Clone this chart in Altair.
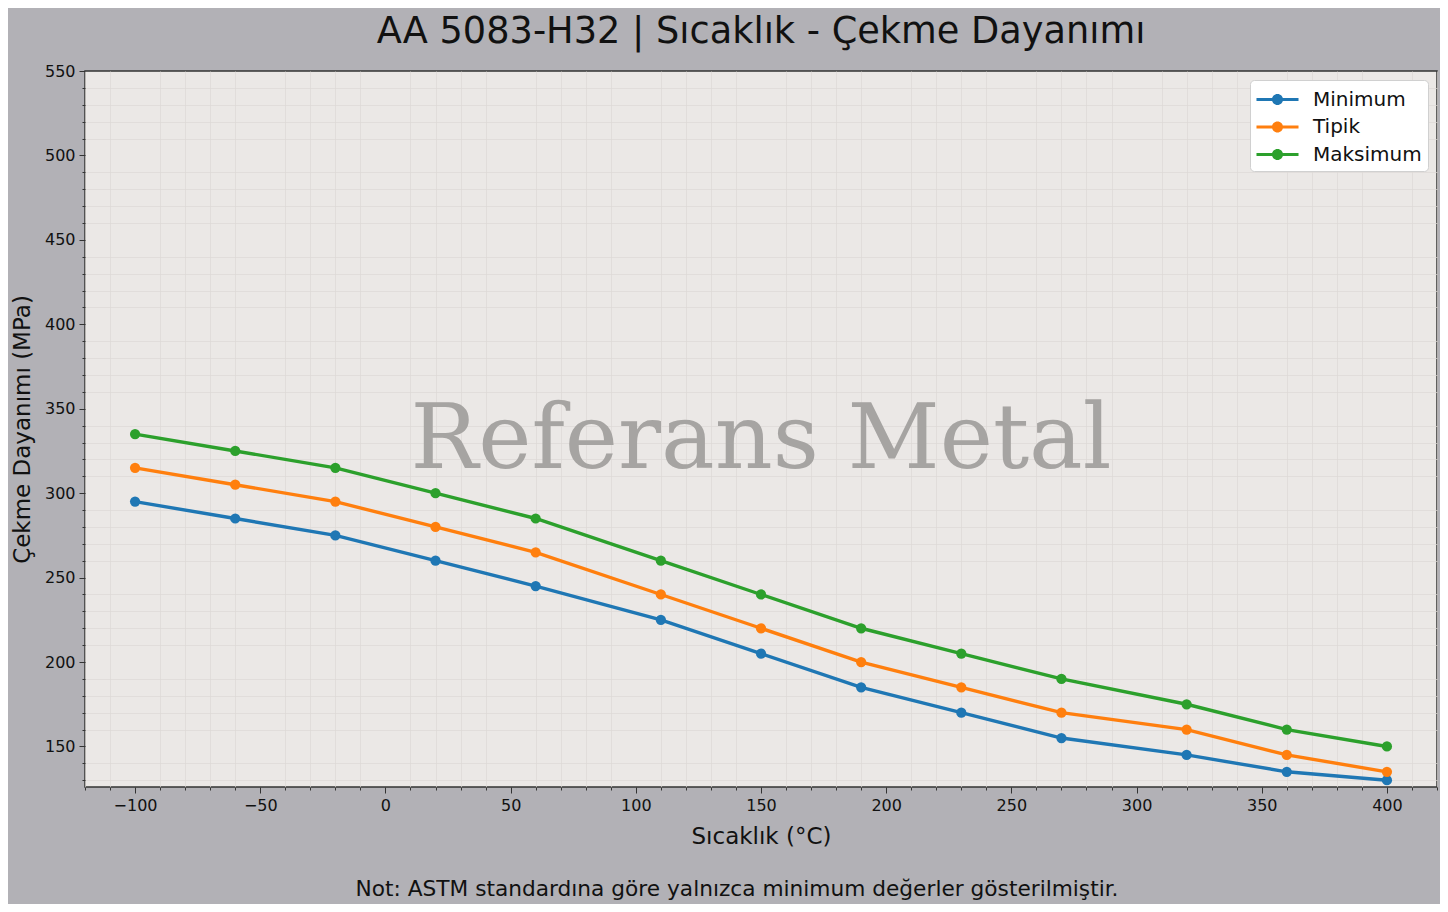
import altair as alt
import pandas as pd

temps = [-100, -60, -20, 20, 60, 110, 150, 190, 230, 270, 320, 360, 400]
minimum = [295, 285, 275, 260, 245, 225, 205, 185, 170, 155, 145, 135, 130]
tipik = [315, 305, 295, 280, 265, 240, 220, 200, 185, 170, 160, 145, 135]
maksimum = [335, 325, 315, 300, 285, 260, 240, 220, 205, 190, 175, 160, 150]
series = ["Minimum", "Tipik", "Maksimum"]
colors = ["#1f77b4", "#ff7f0e", "#2ca02c"]

x_major = list(range(-100, 401, 50))
x_minor = [v for v in range(-120, 421, 10) if v not in x_major]
y_major = list(range(150, 551, 50))
y_minor = [v for v in range(130, 551, 10) if v not in y_major]

rows = []
for name, vals in zip(series, [minimum, tipik, maksimum]):
    for t, v in zip(temps, vals):
        rows.append({"Sıcaklık": t, "Dayanım": v, "Seri": name})
df = pd.DataFrame(rows)

W, H = 1352, 716
font = "DejaVu Sans"

xs = alt.Scale(domain=[-120, 420], nice=False, zero=False)
ys = alt.Scale(domain=[126, 550], nice=False, zero=False)
color = alt.Color(
    "Seri:N",
    scale=alt.Scale(domain=series, range=colors),
    sort=series,
    legend=alt.Legend(
        title=None, orient="top-right", offset=9,
        fillColor="#ffffff", strokeColor="#d0d0d0", cornerRadius=4,
        padding=6, labelFontSize=20, labelFont=font, labelColor="#111111",
        symbolType="M-1.6,-0.12H1.6V0.12H-1.6Z M0.42,0A0.42,0.42 0 1,1 -0.42,0A0.42,0.42 0 1,1 0.42,0Z",
        symbolSize=690, symbolStrokeWidth=0, symbolOffset=8,
        rowPadding=3.5, labelOffset=22,
    ),
)

minor = alt.Chart(df).mark_point(opacity=0).encode(
    x=alt.X("Sıcaklık:Q", scale=xs, axis=alt.Axis(
        values=x_minor, orient="bottom", labels=False, tickSize=3, domain=False,
        tickColor="#333333", gridColor="#dcd8d6", gridWidth=0.7, title=None)),
    y=alt.Y("Dayanım:Q", scale=ys, axis=alt.Axis(
        values=y_minor, orient="left", labels=False, tickSize=3, domain=False,
        tickColor="#333333", gridColor="#dcd8d6", gridWidth=0.7, title=None)),
)

major = alt.Chart(df).mark_point(opacity=0).encode(
    x=alt.X("Sıcaklık:Q", scale=xs, axis=alt.Axis(
        values=x_major, orient="bottom", tickSize=6, domain=False,
        tickColor="#333333", gridColor="#cfcbc8", gridWidth=1.2,
        labelFont=font, labelFontSize=16, labelColor="#111111", labelPadding=4,
        title="Sıcaklık (°C)", titleFont=font, titleFontSize=23,
        titleFontWeight="normal", titleColor="#111111", titlePadding=12)),
    y=alt.Y("Dayanım:Q", scale=ys, axis=alt.Axis(
        values=y_major, orient="left", tickSize=6, domain=False,
        tickColor="#333333", gridColor="#cfcbc8", gridWidth=1.2,
        labelFont=font, labelFontSize=16, labelColor="#111111", labelPadding=4,
        title="Çekme Dayanımı (MPa)", titleFont=font, titleFontSize=23,
        titleFontWeight="normal", titleColor="#111111", titlePadding=10)),
)

watermark = alt.Chart(pd.DataFrame({"t": ["Referans Metal"]})).mark_text(
    font="DejaVu Serif", fontSize=90,
    color="#a6a4a2", align="center", baseline="middle",
).encode(text="t:N", x=alt.value(W / 2), y=alt.value(370))

note = alt.Chart(pd.DataFrame({"t": [
    "Not: ASTM standardına göre yalnızca minimum değerler gösterilmiştir."
]})).mark_text(
    font=font, fontSize=21.7, color="#111111", align="center",
    baseline="middle", clip=False,
).encode(text="t:N", x=alt.value(W / 2 - 24), y=alt.value(H + 102))

lines = alt.Chart(df).mark_line(strokeWidth=3.4).encode(
    x=alt.X("Sıcaklık:Q", scale=xs, axis=None),
    y=alt.Y("Dayanım:Q", scale=ys, axis=None),
    color=color,
    order=alt.Order("Sıcaklık:Q"),
)

points = alt.Chart(df).mark_circle(size=105, opacity=1).encode(
    x=alt.X("Sıcaklık:Q", scale=xs, axis=None),
    y=alt.Y("Dayanım:Q", scale=ys, axis=None),
    color=color,
)

chart = (
    alt.layer(minor, major, watermark, lines, points, note)
    .resolve_axis(x="independent", y="independent")
    .properties(
        width=W, height=H,
        background="#b2b1b6",
        padding={"left": 77, "top": 63, "right": 3, "bottom": 117},
        autosize=alt.AutoSizeParams(type="none"),
        title=alt.Title(
            "AA 5083-H32 | Sıcaklık - Çekme Dayanımı",
            font=font, fontSize=36.7, fontWeight="normal", color="#111111",
            anchor="middle", offset=12,
        ),
    )
    .configure_view(fill="#ebe8e6", stroke="#333333", strokeWidth=1.5)
)

chart.save("out.html", embed_options={"renderer": "svg", "actions": False})
